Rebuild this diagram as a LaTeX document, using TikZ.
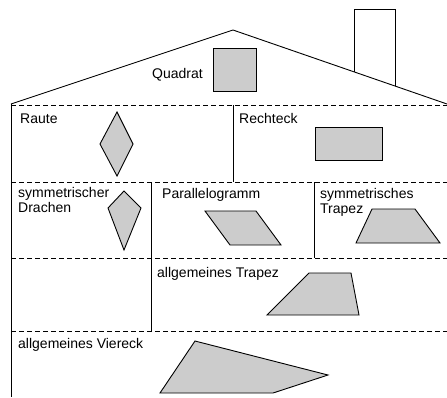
\documentclass[tikz,border=0pt]{standalone}
\usepackage{fontspec}
\setmainfont{Liberation Sans}
\usepackage{xcolor}
\usetikzlibrary{positioning}

\tikzset{
  wand/.style={line width=0.9bp},
  trenn/.style={line width=0.9bp, dash pattern=on 5bp off 3bp},
  figur/.style={line width=0.9bp, fill=gray!40},
  lbl/.style={anchor=base west, inner sep=0pt, font=\fontsize{14bp}{15.5bp}\selectfont}
}

\begin{document}
\begin{tikzpicture}[x=1bp, y=-1bp]
    \useasboundingbox (0,0) rectangle (447,397);

    % Dach und Schornstein
    \coordinate (dl) at (11,104);
    \coordinate (dm) at (233,30);
    \coordinate (dr) at (447,104);
    \draw[wand] (dl)--(dm)--(dr);
    \draw[wand] (354,72)--(354,9)--(395,9)--(395,86);

    % Quadrat
    \draw[figur] (213,48) rectangle (256,91);
    \node[lbl] (quadrat) at (152,78) {Quadrat};

    % Wand links
    \draw[wand] (dl)--(11,397);

    % Zwischendecken
    \draw[trenn] (11,105)--(447,105);
    \draw[trenn] (11,182)--(447,182);
    \draw[trenn] (11,258)--(447,258);
    \draw[trenn] (11,331)--(447,331);

    % Trennwaende
    \draw[wand] (233,105)--(233,182);
    \draw[wand] (151,182)--(151,331);
    \draw[wand] (314,182)--(314,258);

    % Raute
    \node[lbl] (raute) at (20,123) {Raute};
    \draw[figur] (117,112)--(133,144)--(117,176)--(100,144)--cycle;

    % Rechteck
    \node[lbl] (rechteck) at (239,123) {Rechteck};
    \draw[figur] (315,127) rectangle (382,160);

    % symmetrischer Drachen
    \node[lbl] (drachen1) at (18,197) {symmetrischer};
    \node[lbl] (drachen2) at (18,212) {Drachen};
    \draw[figur] (124,191)--(141,208)--(124,250)--(108,208)--cycle;

    % Parallelogramm
    \node[lbl] (parallel) at (162,198) {Parallelogramm};
    \draw[figur] (205,211)--(256,211)--(281,245)--(230,245)--cycle;

    % symmetrisches Trapez
    \node[lbl] (strapez1) at (320,198) {symmetrisches};
    \node[lbl] (strapez2) at (320,213) {Trapez};
    \draw[figur] (372,209)--(415,209)--(440,243)--(356,243)--cycle;

    % allgemeines Trapez
    \node[lbl] (atrapez) at (157,277) {allgemeines Trapez};
    \draw[figur] (309,273)--(351,273)--(359,315)--(267,315)--cycle;

    % allgemeines Viereck
    \node[lbl] (viereck) at (18,348) {allgemeines Viereck};
    \draw[figur] (195,341)--(328,375)--(273,393)--(160,393)--cycle;

\end{tikzpicture}
\end{document}
